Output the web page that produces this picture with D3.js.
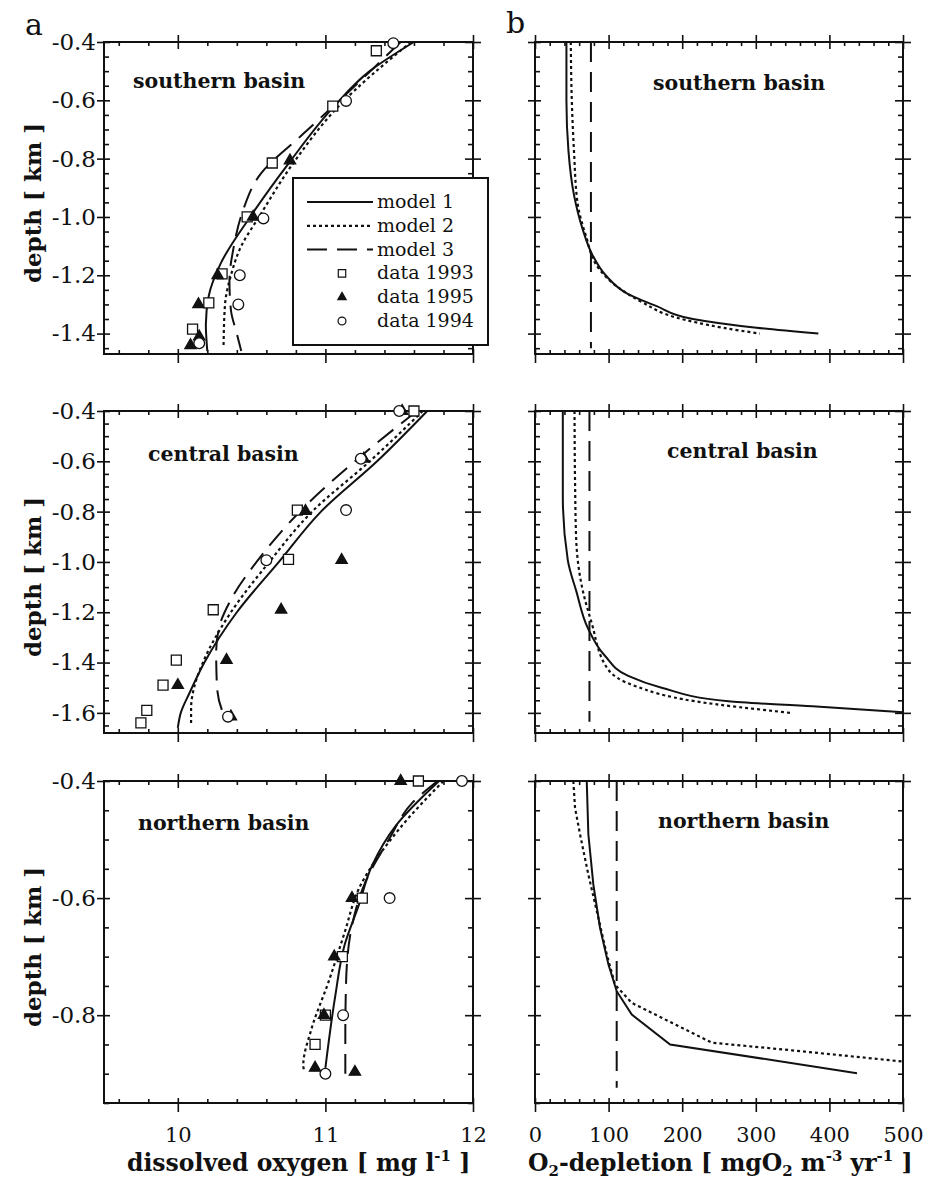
<!DOCTYPE html>
<html>
<head>
<meta charset="utf-8">
<script src="https://cdn.jsdelivr.net/npm/d3@7"></script>
<style>
  body { margin: 0; background: #fff; }
</style>
</head>
<body>
<div id="chart"></div>
<script>
// tick values
var tickOxygen = [10, 11, 12];
var tickDepletion = [0, 100, 200, 300, 400, 500];
var tickDepthSouth = [-0.4, -0.6, -0.8, -1.0, -1.2, -1.4];
var tickDepthCentral = [-0.4, -0.6, -0.8, -1.0, -1.2, -1.4, -1.6];
var tickDepthNorth = [-0.4, -0.6, -0.8];

var basinNames = ["southern basin", "central basin", "northern basin"];
var legendLabels = ["model 1", "model 2", "model 3", "data 1993", "data 1995", "data 1994"];

// ---- southern basin: dissolved oxygen [mg/l] vs depth [km]
var southModel1 = [[11.60,-0.40],[11.30,-0.50],[11.06,-0.62],[10.76,-0.81],[10.49,-1.0],[10.29,-1.16],[10.21,-1.27],[10.19,-1.37],[10.20,-1.46]];
var southModel2 = [[11.58,-0.40],[11.09,-0.62],[10.79,-0.81],[10.55,-1.0],[10.43,-1.1],[10.36,-1.2],[10.32,-1.3],[10.31,-1.44]];
var southModel3 = [[11.51,-0.40],[11.17,-0.565],[10.85,-0.715],[10.56,-0.853],[10.44,-0.98],[10.38,-1.1],[10.35,-1.22],[10.36,-1.32],[10.40,-1.40],[10.43,-1.46]];
var south1993 = [[11.345,-0.43],[11.05,-0.62],[10.64,-0.815],[10.47,-1.0],[10.30,-1.195],[10.21,-1.295],[10.10,-1.385]];
var south1995 = [[10.76,-0.807],[10.51,-1.0],[10.27,-1.20],[10.14,-1.30],[10.145,-1.41],[10.086,-1.44]];
var south1994 = [[11.46,-0.404],[11.14,-0.602],[10.58,-1.005],[10.42,-1.20],[10.41,-1.30],[10.145,-1.433]];

// ---- central basin
var centralModel1 = [[11.69,-0.40],[11.35,-0.60],[10.97,-0.80],[10.685,-1.0],[10.40,-1.2],[10.18,-1.4],[10.08,-1.52],[10.02,-1.60],[10.00,-1.66]];
var centralModel2 = [[11.66,-0.40],[11.30,-0.60],[10.91,-0.80],[10.62,-1.0],[10.36,-1.2],[10.17,-1.4],[10.11,-1.5],[10.09,-1.58],[10.09,-1.64]];
var centralModel3 = [[11.62,-0.40],[11.24,-0.58],[10.86,-0.78],[10.56,-0.98],[10.36,-1.15],[10.28,-1.26],[10.26,-1.36],[10.265,-1.49],[10.30,-1.59],[10.34,-1.62]];
var central1993 = [[11.60,-0.40],[10.81,-0.794],[10.75,-0.99],[10.24,-1.19],[9.99,-1.39],[9.90,-1.49],[9.79,-1.59],[9.75,-1.64]];
var central1995 = [[11.52,-0.40],[11.26,-0.59],[10.865,-0.798],[11.11,-0.993],[10.70,-1.19],[10.33,-1.39],[10.0,-1.49],[10.36,-1.615]];
var central1994 = [[11.50,-0.40],[11.24,-0.59],[11.14,-0.794],[10.60,-0.993],[10.34,-1.615]];

// ---- northern basin
var northModel1 = [[11.77,-0.40],[11.475,-0.477],[11.315,-0.545],[11.225,-0.613],[11.13,-0.68],[11.065,-0.77],[11.0,-0.89]];
var northModel2 = [[11.80,-0.40],[11.50,-0.482],[11.225,-0.585],[11.13,-0.659],[11.02,-0.744],[10.905,-0.824],[10.85,-0.886],[10.86,-0.897]];
var northModel3 = [[11.76,-0.40],[11.59,-0.437],[11.43,-0.50],[11.27,-0.573],[11.18,-0.647],[11.14,-0.744],[11.135,-0.83],[11.135,-0.90]];
var north1993 = [[11.63,-0.40],[11.25,-0.60],[11.115,-0.70],[11.0,-0.80],[10.93,-0.85]];
var north1995 = [[11.51,-0.40],[11.18,-0.60],[11.06,-0.70],[10.99,-0.80],[10.93,-0.89],[11.20,-0.897]];
var north1994 = [[11.925,-0.40],[11.435,-0.60],[11.12,-0.80],[11.0,-0.90]];

// ---- O2 depletion [mgO2 m-3 yr-1] vs depth
var southRate1 = [[42.7,-0.40],[42.7,-0.60],[45.5,-0.775],[53,-0.925],[64.5,-1.04],[78,-1.13],[96,-1.20],[123.6,-1.26],[164.5,-1.305],[214.5,-1.35],[301,-1.38],[385,-1.40]];
var southRate2 = [[48.6,-0.40],[50,-0.60],[53,-0.775],[57.7,-0.95],[69,-1.063],[87,-1.178],[110,-1.236],[146,-1.293],[192,-1.345],[255.5,-1.38],[305.5,-1.40]];
var southRate3 = [[76,-0.40],[76,-1.45]];
var centralRate1 = [[37.8,-0.40],[37.8,-0.74],[44.6,-0.994],[56,-1.115],[72,-1.264],[94.7,-1.372],[126.6,-1.453],[172,-1.50],[263,-1.554],[377,-1.574],[500,-1.598]];
var centralRate2 = [[53.7,-0.40],[54.5,-0.70],[56,-0.913],[65,-1.115],[76.5,-1.237],[99,-1.426],[135.7,-1.493],[217.7,-1.554],[347,-1.60]];
var centralRate3 = [[74,-0.40],[74,-1.635]];
var northRate1 = [[70.3,-0.40],[72.5,-0.491],[79.3,-0.577],[88.4,-0.651],[99.7,-0.713],[111,-0.759],[131.5,-0.799],[183.6,-0.85],[437.5,-0.899]];
var northRate2 = [[52.1,-0.40],[54.4,-0.446],[61.2,-0.491],[72.5,-0.56],[86.1,-0.634],[97.5,-0.696],[108.8,-0.748],[131.5,-0.779],[185.9,-0.813],[240.3,-0.847],[349,-0.860],[498.6,-0.879]];
var northRate3 = [[111,-0.40],[111,-0.924]];

var FONT = "'DejaVu Serif', serif";
var INK = "#111";

var svg = d3.select("#chart").append("svg")
    .attr("width", 925)
    .attr("height", 1185)
    .style("background", "#fff");

var rows = [
  {name: basinNames[0], top: 42, bottom: 354, domain: [-1.47, -0.4], ticks: tickDepthSouth,
   models: [southModel1, southModel2, southModel3], data: [south1993, south1995, south1994],
   rates: [southRate1, southRate2, southRate3], curveR: d3.curveMonotoneY,
   labelL: [133, 88], labelR: [653, 90], titleY: 203},
  {name: basinNames[1], top: 411, bottom: 733, domain: [-1.68, -0.4], ticks: tickDepthCentral,
   models: [centralModel1, centralModel2, centralModel3], data: [central1993, central1995, central1994],
   rates: [centralRate1, centralRate2, centralRate3], curveR: d3.curveMonotoneY,
   labelL: [148, 461], labelR: [667, 458], titleY: 577},
  {name: basinNames[2], top: 781, bottom: 1103, domain: [-0.95, -0.4], ticks: tickDepthNorth,
   models: [northModel1, northModel2, northModel3], data: [north1993, north1995, north1994],
   rates: [northRate1, northRate2, northRate3], curveR: d3.curveLinear,
   labelL: [138, 830], labelR: [658, 828], titleY: 947}
];

var colsX = [[104, 473], [535, 903]];
var lineStyles = [
  {dash: null, w: 2},
  {dash: "3,3", w: 2.2},
  {dash: "20,10", w: 2}
];
var markerTypes = [
  {type: d3.symbolSquare, size: 100, fill: "#fff"},
  {type: d3.symbolTriangle, size: 55, fill: INK},
  {type: d3.symbolCircle, size: 90, fill: "#fff"}
];

function isMajor(v, step) {
  return Math.abs(v / step - Math.round(v / step)) < 1e-6;
}

// one call = one set of ticks drawn through a d3 axis
function tickSet(g, axisFn, scale, tr, vals, size, fmt, pad, fs) {
  var a = g.append("g").attr("transform", tr)
    .call(axisFn(scale).tickValues(vals).tickSizeOuter(0).tickSize(size)
      .tickPadding(pad || 0).tickFormat(fmt || function() { return ""; }));
  a.select(".domain").remove();
  a.selectAll("line").attr("stroke", INK).attr("stroke-width", 1.6);
  a.selectAll("text").attr("font-family", FONT).attr("font-size", fs || 20).attr("fill", INK);
  return a;
}

rows.forEach(function(row, ri) {
  var y = d3.scaleLinear().domain(row.domain).range([row.bottom, row.top]);
  var minorY = d3.range(0, 40).map(function(i) { return +(-0.4 - i * 0.05).toFixed(2); })
    .filter(function(v) { return v >= row.domain[0] - 1e-9 && !isMajor(v, 0.2); });

  [0, 1].forEach(function(ci) {
    var x0 = colsX[ci][0], x1 = colsX[ci][1];
    var x = ci === 0
      ? d3.scaleLinear().domain([9.5, 12]).range([x0, x1])
      : d3.scaleLinear().domain([0, 500]).range([x0, x1]);
    var majorX = ci === 0 ? tickOxygen : tickDepletion;
    var minorX = ci === 0
      ? d3.range(48, 60).map(function(i) { return +(i * 0.2).toFixed(1); }).filter(function(v) { return v > 9.5 && !isMajor(v, 1); })
      : d3.range(1, 25).map(function(i) { return i * 20; }).filter(function(v) { return !isMajor(v, 100); });

    var g = svg.append("g");

    // frame
    g.append("rect")
      .attr("x", x0).attr("y", row.top)
      .attr("width", x1 - x0).attr("height", row.bottom - row.top)
      .attr("fill", "none").attr("stroke", INK).attr("stroke-width", 2);

    // left axis
    var yFmt = ci === 0 ? function(d) { return d.toFixed(1); } : null;
    tickSet(g, d3.axisLeft, y, "translate(" + x0 + ",0)", row.ticks, 7, yFmt, 1, 23);
    tickSet(g, d3.axisLeft, y, "translate(" + x0 + ",0)", row.ticks, -6);
    tickSet(g, d3.axisLeft, y, "translate(" + x0 + ",0)", minorY, -5);
    // right axis
    tickSet(g, d3.axisRight, y, "translate(" + x1 + ",0)", row.ticks, 8);
    tickSet(g, d3.axisRight, y, "translate(" + x1 + ",0)", row.ticks, -8);
    tickSet(g, d3.axisRight, y, "translate(" + x1 + ",0)", minorY, -5);
    // top axis
    tickSet(g, d3.axisTop, x, "translate(0," + row.top + ")", majorX, 7);
    tickSet(g, d3.axisTop, x, "translate(0," + row.top + ")", majorX, -7);
    tickSet(g, d3.axisTop, x, "translate(0," + row.top + ")", minorX, -4);
    // bottom axis
    var xFmt = ri === 2 ? function(d) { return String(d); } : null;
    tickSet(g, d3.axisBottom, x, "translate(0," + row.bottom + ")", majorX, 9, xFmt, 15, 21);
    tickSet(g, d3.axisBottom, x, "translate(0," + row.bottom + ")", majorX, -5);
    tickSet(g, d3.axisBottom, x, "translate(0," + row.bottom + ")", minorX, -4);

    // model curves
    var series = ci === 0 ? row.models : row.rates;
    var curve = ci === 0 ? d3.curveMonotoneY : row.curveR;
    var line = d3.line()
      .x(function(d) { return x(d[0]); })
      .y(function(d) { return y(d[1]); })
      .curve(curve);
    series.forEach(function(s, si) {
      g.append("path")
        .attr("d", line(s))
        .attr("fill", "none")
        .attr("stroke", INK)
        .attr("stroke-width", lineStyles[si].w)
        .attr("stroke-dasharray", lineStyles[si].dash);
    });

    // measured data
    if (ci === 0) {
      row.data.forEach(function(s, si) {
        var m = markerTypes[si];
        g.selectAll(null).data(s).enter().append("path")
          .attr("d", d3.symbol().type(m.type).size(m.size))
          .attr("transform", function(d) { return "translate(" + x(d[0]) + "," + y(d[1]) + ")"; })
          .attr("fill", m.fill)
          .attr("stroke", INK)
          .attr("stroke-width", 1.3);
      });
    }

    // basin label
    var pos = ci === 0 ? row.labelL : row.labelR;
    g.append("text")
      .attr("x", pos[0]).attr("y", pos[1])
      .attr("font-family", FONT).attr("font-weight", "bold").attr("font-size", 20.5)
      .attr("fill", INK)
      .text(row.name);
  });

  // y axis title
  svg.append("text")
    .attr("transform", "translate(41," + row.titleY + ") rotate(-90)")
    .attr("text-anchor", "middle")
    .attr("font-family", FONT).attr("font-weight", "bold").attr("font-size", 23)
    .attr("fill", INK)
    .text("depth [ km ]");
});

// panel letters
svg.append("text").attr("x", 25).attr("y", 35).attr("font-family", FONT).attr("font-size", 30).attr("fill", INK).text("a");
svg.append("text").attr("x", 506).attr("y", 33).attr("font-family", FONT).attr("font-size", 30).attr("fill", INK).text("b");

// x axis titles
var t1 = svg.append("text").attr("x", 127).attr("y", 1171)
  .attr("font-family", FONT).attr("font-weight", "bold").attr("font-size", 23.5).attr("fill", INK);
t1.append("tspan").text("dissolved oxygen [ mg l");
t1.append("tspan").attr("dy", -10).attr("font-size", 15).text("-1");
t1.append("tspan").attr("dy", 10).text(" ]");

var t2 = svg.append("text").attr("x", 528).attr("y", 1171)
  .attr("font-family", FONT).attr("font-weight", "bold").attr("font-size", 23.5).attr("fill", INK);
t2.append("tspan").text("O");
t2.append("tspan").attr("dy", 5).attr("font-size", 15).text("2");
t2.append("tspan").attr("dy", -5).text("-depletion [ mgO");
t2.append("tspan").attr("dy", 5).attr("font-size", 15).text("2");
t2.append("tspan").attr("dy", -5).text(" m");
t2.append("tspan").attr("dy", -10).attr("font-size", 15).text("-3");
t2.append("tspan").attr("dy", 10).text(" yr");
t2.append("tspan").attr("dy", -10).attr("font-size", 15).text("-1");
t2.append("tspan").attr("dy", 10).text(" ]");

// legend (top-left panel)
var lg = svg.append("g");
lg.append("rect").attr("x", 293).attr("y", 178).attr("width", 195).attr("height", 167)
  .attr("fill", "#fff").attr("stroke", INK).attr("stroke-width", 2);
legendLabels.forEach(function(lab, i) {
  var by = 208 + i * 23.8;
  if (i < 3) {
    lg.append("line").attr("x1", 307).attr("x2", 373).attr("y1", by - 6).attr("y2", by - 6)
      .attr("stroke", INK).attr("stroke-width", lineStyles[i].w)
      .attr("stroke-dasharray", lineStyles[i].dash);
  } else {
    var m = markerTypes[i - 3];
    lg.append("path")
      .attr("d", d3.symbol().type(m.type).size(m.size * 0.55))
      .attr("transform", "translate(342," + (by - 6) + ")")
      .attr("fill", m.fill).attr("stroke", INK).attr("stroke-width", 1.2);
  }
  lg.append("text").attr("x", 377).attr("y", by)
    .attr("font-family", FONT).attr("font-size", 19).attr("fill", INK)
    .text(lab);
});
</script>
</body>
</html>
